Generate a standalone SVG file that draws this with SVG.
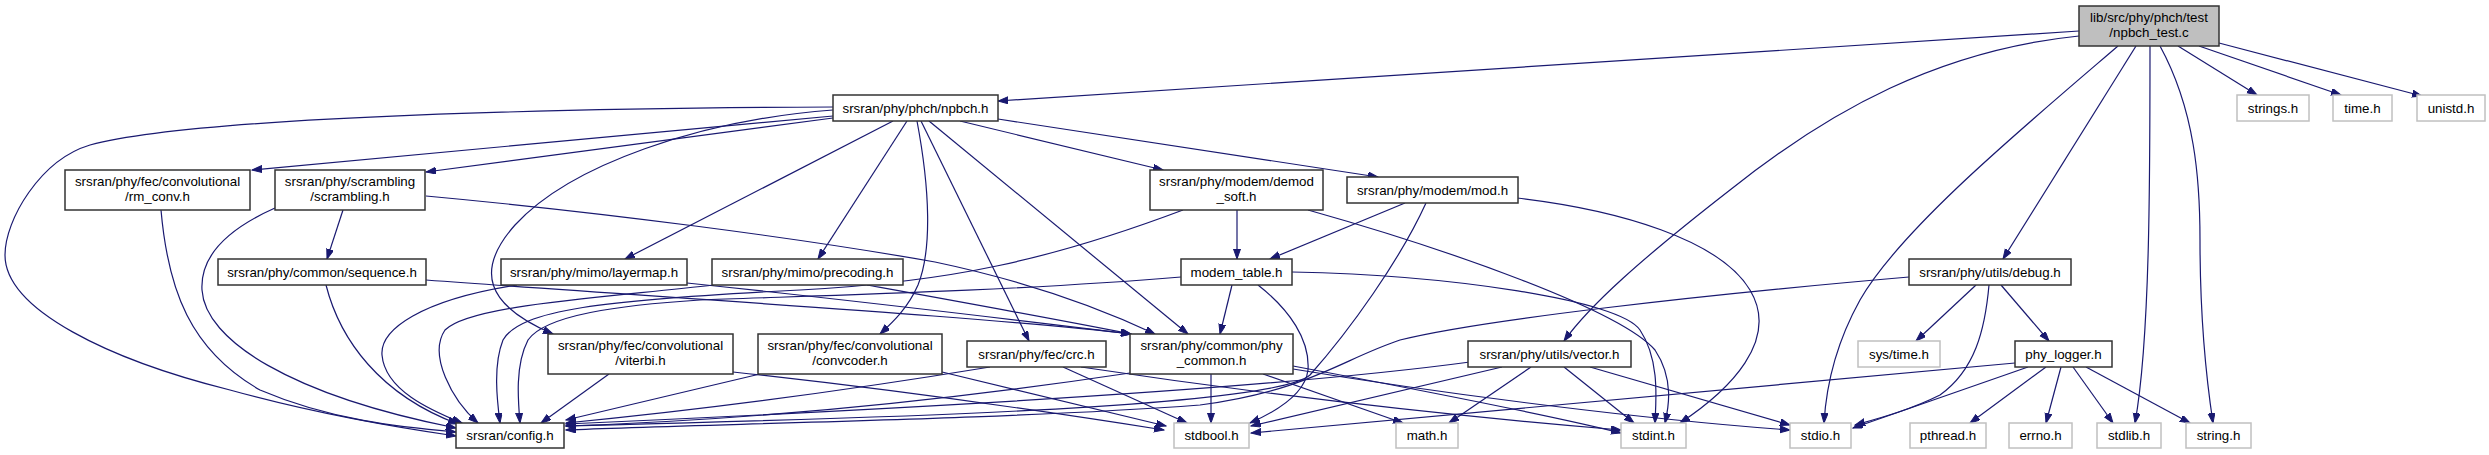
<svg xmlns="http://www.w3.org/2000/svg" width="2489" height="455" viewBox="0 0 2489 455">
<defs>
<style>
.n rect{fill:#fff;stroke:#333;stroke-width:1.5}
.g rect{fill:#fff;stroke:#c0c0c0;stroke-width:1.5}
.r rect{fill:#bfbfbf;stroke:#333;stroke-width:1.5}
text{font-family:"Liberation Sans",Arial,sans-serif;font-size:13.33px;fill:#000;text-anchor:middle}
#edges path{fill:none;stroke:#191970;stroke-width:1.2;marker-end:url(#ah)}
</style>
<marker id="ah" markerUnits="userSpaceOnUse" markerWidth="11" markerHeight="8" refX="10" refY="3.5" orient="auto">
<path d="M0,0 L10,3.5 L0,7 z" fill="#191970" stroke="#191970" stroke-width="1"/>
</marker>
</defs>
<rect width="2489" height="455" fill="#fff"/>
<g id="edges">
<path d="M2079,31 L998,101"/>
<path d="M2079,36 C1940,50 1830,110 1730,190 C1640,260 1590,305 1564,341"/>
<path d="M2136,46 L2003,259"/>
<path d="M2118,46 C2020,130 1900,230 1860,300 C1835,345 1826,390 1824,423"/>
<path d="M2150,46 C2150,180 2150,340 2135,423"/>
<path d="M2160,46 C2195,110 2200,180 2200,240 C2200,330 2208,390 2213,423"/>
<path d="M2178,46 L2257,95"/>
<path d="M2199,46 L2341,95"/>
<path d="M2219,43 L2422,96"/>
<path d="M833,116 L252,170"/>
<path d="M833,118 L426,172"/>
<path d="M833,107 C600,108 200,115 90,145 C40,160 5,220 5,255 C5,310 110,360 230,390 C320,415 400,428 456,436"/>
<path d="M833,110 C700,120 570,165 515,225 C475,270 485,305 553,334"/>
<path d="M893,121 L625,259"/>
<path d="M907,121 L818,259"/>
<path d="M917,121 C930,190 932,250 918,285 C908,308 893,322 880,334"/>
<path d="M921,121 L1029,341"/>
<path d="M929,121 L1188,334"/>
<path d="M960,121 L1163,170"/>
<path d="M998,119 L1378,177"/>
<path d="M161,210 C168,290 190,350 260,390 C330,420 400,427 456,432"/>
<path d="M275,208 C230,228 200,255 202,290 C205,340 290,395 456,428"/>
<path d="M343,210 L327,259"/>
<path d="M426,196 C600,212 800,238 935,262 C1030,282 1100,308 1155,334"/>
<path d="M326,285 C340,340 380,395 458,424"/>
<path d="M426,280 C700,300 1000,318 1131,334"/>
<path d="M517,285 C420,300 380,330 382,355 C385,390 430,410 462,423"/>
<path d="M687,283 C850,300 1000,318 1131,334"/>
<path d="M714,285 C600,298 470,305 445,330 C428,355 452,400 478,423"/>
<path d="M867,285 C950,300 1050,318 1131,334"/>
<path d="M1183,210 C1050,260 950,282 800,290 C600,300 520,310 503,340 C493,365 497,400 500,423"/>
<path d="M1237,210 L1237,259"/>
<path d="M1308,210 C1450,250 1620,310 1655,350 C1675,380 1668,410 1665,423"/>
<path d="M1405,203 L1270,259"/>
<path d="M1426,203 C1400,260 1350,330 1310,375 C1270,410 800,420 566,426"/>
<path d="M1517,198 C1620,210 1720,240 1750,290 C1780,340 1730,390 1680,423"/>
<path d="M1181,277 C1000,292 800,296 700,300 C620,305 545,315 528,340 C515,365 518,400 520,423"/>
<path d="M1232,285 L1220,334"/>
<path d="M1258,285 C1290,310 1310,340 1308,370 C1305,395 1275,412 1250,423"/>
<path d="M1292,272 C1450,275 1620,300 1640,330 C1660,360 1656,400 1655,423"/>
<path d="M609,374 L541,423"/>
<path d="M733,372 C900,390 1050,412 1164,430"/>
<path d="M760,374 L566,420"/>
<path d="M942,372 L1166,426"/>
<path d="M990,367 C850,390 700,410 566,423"/>
<path d="M1063,367 L1187,423"/>
<path d="M1081,367 C1300,400 1500,420 1621,430"/>
<path d="M1130,373 C950,400 750,420 566,426"/>
<path d="M1211,374 L1211,423"/>
<path d="M1263,374 L1403,423"/>
<path d="M1293,366 C1420,390 1550,415 1621,433"/>
<path d="M1293,369 C1450,395 1650,420 1790,430"/>
<path d="M1470,362 C1300,385 1000,405 566,424"/>
<path d="M1502,367 L1251,426"/>
<path d="M1531,367 L1449,423"/>
<path d="M1564,367 L1634,423"/>
<path d="M1590,367 L1790,425"/>
<path d="M1909,277 C1700,295 1480,320 1400,340 C1340,360 1310,390 1200,405 C1000,420 700,424 566,430"/>
<path d="M1976,285 L1916,341"/>
<path d="M2001,285 L2049,341"/>
<path d="M1989,285 C1985,330 1975,370 1940,395 C1910,410 1880,418 1855,425"/>
<path d="M2015,363 L1251,433"/>
<path d="M2028,367 L1853,428"/>
<path d="M2046,367 L1970,423"/>
<path d="M2061,367 L2046,423"/>
<path d="M2073,367 L2113,423"/>
<path d="M2086,367 L2190,423"/>
</g>
<g id="n_root" class="r"><rect x="2079" y="6" width="140" height="40"/><text x="2149" y="22.4">lib/src/phy/phch/test</text><text x="2149" y="37.4">/npbch_test.c</text></g>
<g id="n_npbch" class="n"><rect x="833" y="95" width="165" height="26"/><text x="915.5" y="112.7">srsran/phy/phch/npbch.h</text></g>
<g id="n_strings" class="g"><rect x="2237" y="95" width="72" height="26"/><text x="2273" y="112.7">strings.h</text></g>
<g id="n_time" class="g"><rect x="2333" y="95" width="59" height="26"/><text x="2362.5" y="112.7">time.h</text></g>
<g id="n_unistd" class="g"><rect x="2417" y="95" width="68" height="26"/><text x="2451" y="112.7">unistd.h</text></g>
<g id="n_rmconv" class="n"><rect x="65" y="170" width="185" height="40"/><text x="157.5" y="186.4">srsran/phy/fec/convolutional</text><text x="157.5" y="201.4">/rm_conv.h</text></g>
<g id="n_scrambling" class="n"><rect x="275" y="170" width="150" height="40"/><text x="350" y="186.4">srsran/phy/scrambling</text><text x="350" y="201.4">/scrambling.h</text></g>
<g id="n_demod" class="n"><rect x="1150" y="170" width="173" height="40"/><text x="1236.5" y="186.4">srsran/phy/modem/demod</text><text x="1236.5" y="201.4">_soft.h</text></g>
<g id="n_mod" class="n"><rect x="1347" y="177" width="171" height="26"/><text x="1432.5" y="194.7">srsran/phy/modem/mod.h</text></g>
<g id="n_sequence" class="n"><rect x="218" y="259" width="208" height="26"/><text x="322" y="276.7">srsran/phy/common/sequence.h</text></g>
<g id="n_layermap" class="n"><rect x="501" y="259" width="186" height="26"/><text x="594" y="276.7">srsran/phy/mimo/layermap.h</text></g>
<g id="n_precoding" class="n"><rect x="712" y="259" width="191" height="26"/><text x="807.5" y="276.7">srsran/phy/mimo/precoding.h</text></g>
<g id="n_modemtable" class="n"><rect x="1181" y="259" width="111" height="26"/><text x="1236.5" y="276.7">modem_table.h</text></g>
<g id="n_debug" class="n"><rect x="1909" y="259" width="162" height="26"/><text x="1990" y="276.7">srsran/phy/utils/debug.h</text></g>
<g id="n_viterbi" class="n"><rect x="548" y="334" width="185" height="40"/><text x="640.5" y="350.4">srsran/phy/fec/convolutional</text><text x="640.5" y="365.4">/viterbi.h</text></g>
<g id="n_convcoder" class="n"><rect x="758" y="334" width="184" height="40"/><text x="850" y="350.4">srsran/phy/fec/convolutional</text><text x="850" y="365.4">/convcoder.h</text></g>
<g id="n_crc" class="n"><rect x="967" y="341" width="139" height="26"/><text x="1036.5" y="358.7">srsran/phy/fec/crc.h</text></g>
<g id="n_phycommon" class="n"><rect x="1130" y="334" width="163" height="40"/><text x="1211.5" y="350.4">srsran/phy/common/phy</text><text x="1211.5" y="365.4">_common.h</text></g>
<g id="n_vector" class="n"><rect x="1468" y="341" width="163" height="26"/><text x="1549.5" y="358.7">srsran/phy/utils/vector.h</text></g>
<g id="n_systime" class="g"><rect x="1858" y="341" width="82" height="26"/><text x="1899" y="358.7">sys/time.h</text></g>
<g id="n_phylogger" class="n"><rect x="2015" y="341" width="97" height="26"/><text x="2063.5" y="358.7">phy_logger.h</text></g>
<g id="n_config" class="n"><rect x="456" y="423" width="108" height="25"/><text x="510" y="440.2">srsran/config.h</text></g>
<g id="n_stdbool" class="g"><rect x="1174" y="423" width="75" height="25"/><text x="1211.5" y="440.2">stdbool.h</text></g>
<g id="n_math" class="g"><rect x="1396" y="423" width="62" height="25"/><text x="1427" y="440.2">math.h</text></g>
<g id="n_stdint" class="g"><rect x="1621" y="423" width="65" height="25"/><text x="1653.5" y="440.2">stdint.h</text></g>
<g id="n_stdio" class="g"><rect x="1790" y="423" width="61" height="25"/><text x="1820.5" y="440.2">stdio.h</text></g>
<g id="n_pthread" class="g"><rect x="1910" y="423" width="76" height="25"/><text x="1948" y="440.2">pthread.h</text></g>
<g id="n_errno" class="g"><rect x="2009" y="423" width="63" height="25"/><text x="2040.5" y="440.2">errno.h</text></g>
<g id="n_stdlib" class="g"><rect x="2097" y="423" width="64" height="25"/><text x="2129" y="440.2">stdlib.h</text></g>
<g id="n_string" class="g"><rect x="2186" y="423" width="65" height="25"/><text x="2218.5" y="440.2">string.h</text></g>
</svg>
